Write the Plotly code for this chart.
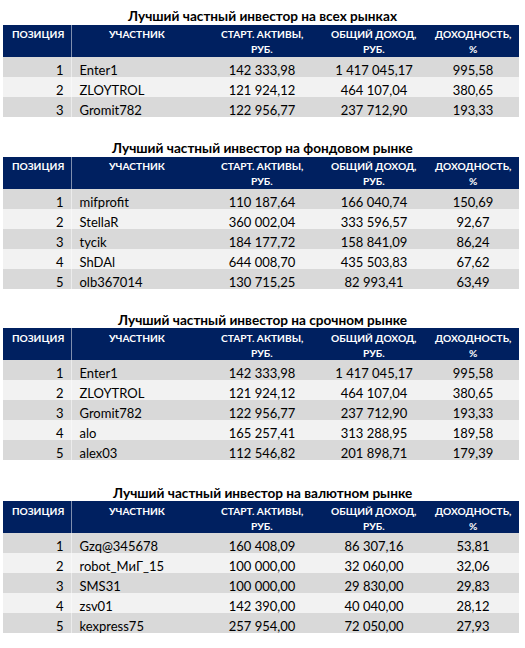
import plotly.graph_objects as go

FONT = "Lato"

titles = [
    "Лучший частный инвестор на всех рынках",
    "Лучший частный инвестор на фондовом рынке",
    "Лучший частный инвестор на срочном рынке",
    "Лучший частный инвестор на валютном рынке",
]

header_line1 = ["ПОЗИЦИЯ", "УЧАСТНИК", "СТАРТ. АКТИВЫ,", "ОБЩИЙ ДОХОД,", "ДОХОДНОСТЬ,"]
header_line2 = ["", "", "РУБ.", "РУБ.", "%"]

# Table 1: all markets
all_pos = [1, 2, 3]
all_names = ["Enter1", "ZLOYTROL", "Gromit782"]
all_start = [142333.98, 121924.12, 122956.77]
all_income = [1417045.17, 464107.04, 237712.90]
all_yield = [995.58, 380.65, 193.33]

# Table 2: stock market
stock_pos = [1, 2, 3, 4, 5]
stock_names = ["mifprofit", "StellaR", "tycik", "ShDAl", "olb367014"]
stock_start = [110187.64, 360002.04, 184177.72, 644008.70, 130715.25]
stock_income = [166040.74, 333596.57, 158841.09, 435503.83, 82993.41]
stock_yield = [150.69, 92.67, 86.24, 67.62, 63.49]

# Table 3: derivatives market
deriv_pos = [1, 2, 3, 4, 5]
deriv_names = ["Enter1", "ZLOYTROL", "Gromit782", "alo", "alex03"]
deriv_start = [142333.98, 121924.12, 122956.77, 165257.41, 112546.82]
deriv_income = [1417045.17, 464107.04, 237712.90, 313288.95, 201898.71]
deriv_yield = [995.58, 380.65, 193.33, 189.58, 179.39]

# Table 4: currency market
fx_pos = [1, 2, 3, 4, 5]
fx_names = ["Gzq@345678", "robot_МиГ_15", "SMS31", "zsv01", "kexpress75"]
fx_start = [160408.09, 100000.00, 100000.00, 142390.00, 257954.00]
fx_income = [86307.16, 32060.00, 29830.00, 40040.00, 72050.00]
fx_yield = [53.81, 32.06, 29.83, 28.12, 27.93]

tables = [
    (all_pos, all_names, all_start, all_income, all_yield),
    (stock_pos, stock_names, stock_start, stock_income, stock_yield),
    (deriv_pos, deriv_names, deriv_start, deriv_income, deriv_yield),
    (fx_pos, fx_names, fx_start, fx_income, fx_yield),
]


def fmt(v):
    s = f"{v:,.2f}"
    return s.replace(",", "\u00a0").replace(".", ",")


W, H = 525, 648
tops = [25, 157, 328, 501]
header_h = 32
row_h = 20
col_w = [68.5, 131.5, 118, 106, 92]
x0, x1 = 3, 519
header_centers = [38, 137, 262, 374, 473]

fig = go.Figure()
for i, (pos, names, start, income, yld) in enumerate(tables):
    n = len(pos)
    top = tops[i]
    bottom = top + header_h + n * row_h + 1
    fills = ["#D9D9D9" if k % 2 == 0 else "#F2F2F2" for k in range(n)]
    fig.add_trace(go.Table(
        domain=dict(x=[x0 / W, x1 / W], y=[1 - bottom / H, 1 - top / H]),
        columnwidth=col_w,
        header=dict(
            values=[""] * 5,
            fill_color="#002060",
            line=dict(color="#002060", width=0),
            height=header_h,
        ),
        cells=dict(
            values=[
                [str(p) for p in pos],
                names,
                [fmt(v) for v in start],
                [fmt(v) for v in income],
                [fmt(v) for v in yld],
            ],
            fill_color=[fills] * 5,
            line=dict(color="rgba(0,0,0,0)", width=0),
            align=["right", "left", "center", "center", "center"],
            font=dict(family=FONT, size=13, color="black"),
            height=row_h,
        ),
    ))
    fig.add_annotation(
        text=f"<b>{titles[i]}</b>", x=262 / W, y=1 - (top - 8.5) / H,
        xref="paper", yref="paper", xanchor="center", yanchor="middle",
        showarrow=False, font=dict(family=FONT, size=13.6, color="black"),
    )
    for cx, l1, l2 in zip(header_centers, header_line1, header_line2):
        fig.add_annotation(
            text=f"<b>{l1}</b>", x=cx / W, y=1 - (top + 9.5) / H,
            xref="paper", yref="paper", xanchor="center", yanchor="middle",
            showarrow=False, font=dict(family=FONT, size=10.2, color="white"),
        )
        if l2:
            fig.add_annotation(
                text=f"<b>{l2}</b>", x=cx / W, y=1 - (top + 24.5) / H,
                xref="paper", yref="paper", xanchor="center", yanchor="middle",
                showarrow=False, font=dict(family=FONT, size=10.2, color="white"),
            )

fig.update_layout(
    width=W, height=H, margin=dict(l=0, r=0, t=0, b=0),
    paper_bgcolor="white", plot_bgcolor="white",
)
fig.write_html(
    "out.html",
    config={"displayModeBar": False},
    post_script="document.body.style.margin='0px';",
)
